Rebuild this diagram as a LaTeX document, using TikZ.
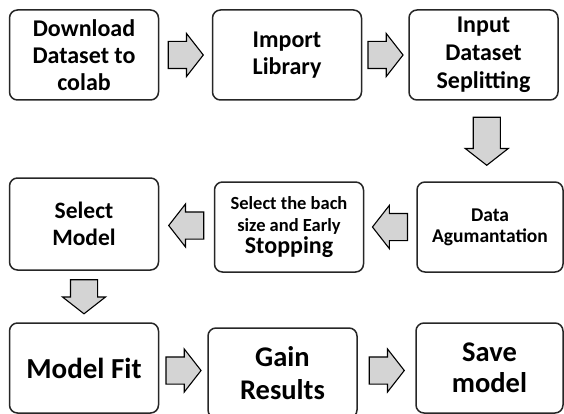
\documentclass[tikz,border=0pt]{standalone}
\usepackage{fontspec}
\setmainfont{Carlito}
\usetikzlibrary{calc,shapes.arrows}
\newcommand{\boxfont}[2]{\fontsize{#1}{#2}\selectfont\bfseries}
\tikzset{
  step box/.style={draw=black!85,line width=1.5pt,rounded corners=8pt,align=center,
    inner sep=2pt,minimum width=149pt,minimum height=90pt},
  step arrow/.style={single arrow,draw=black,line width=1.1pt,fill=black!17,
    inner xsep=0pt,inner ysep=13pt,single arrow head extend=8pt,
    minimum height=35pt,single arrow tip angle=104,rotate=#1,xshift=-5pt},
  step arrow/.default=0,
}
\begin{document}
\begin{tikzpicture}[x=1pt,y=-1pt]
  \useasboundingbox (0,0) rectangle (564,414);
  % top row
  \node[step box,font=\boxfont{24}{27}] (dl) at (84,55) {Download\\Dataset to\\colab};
  \node[step box,font=\boxfont{24}{27}] (imp) at (287,55) {Import\\Library};
  \node[step box,font=\boxfont{24}{28}] (split) at (483.5,55) {Input\\Dataset\\Seplitting};
  % middle row
  \node[step box,font=\boxfont{23.5}{27},minimum height=92pt] (sel) at (84,224) {Select\\Model};
  \node[step box,font=\boxfont{18.5}{22}] (bach) at (289,227)
    {Select the bach\\size and Early\\\boxfont{24}{25}Stopping};
  \node[step box,font=\boxfont{19.5}{21},minimum width=146pt] (aug) at (490,227) {Data\\Agumantation};
  % bottom row
  \node[step box,font=\boxfont{29}{32}] (fit) at (84,368) {Model Fit};
  \node[step box,font=\boxfont{28.5}{33}] (gain) at (282.5,373) {Gain\\Results};
  \node[step box,font=\boxfont{28.5}{31},minimum width=147pt] (save) at (489.5,368) {Save\\model};
  % block arrows
  \node[step arrow] (a1) at ($(dl.east)!0.5!(imp.west)$) {};
  \node[step arrow] (a2) at ($(imp.east)!0.5!(split.west)$) {};
  \node[step arrow=-90,minimum height=48pt] (a3) at ($(split.south)!0.5!(aug.north)$) {};
  \node[step arrow=180] (a4) at ($(aug.west)!0.5!(bach.east)$) {};
  \node[step arrow=180] (a5) at ($(bach.west)!0.5!(sel.east)$) {};
  \node[step arrow=-90,minimum height=34pt] (a6) at ($(sel.south)!0.5!(fit.north)$) {};
  \node[step arrow] (a7) at ($(fit.east)!0.5!(gain.west)$) {};
  \node[step arrow] (a8) at ($(gain.east)!0.5!(save.west)$) {};
\end{tikzpicture}
\end{document}
